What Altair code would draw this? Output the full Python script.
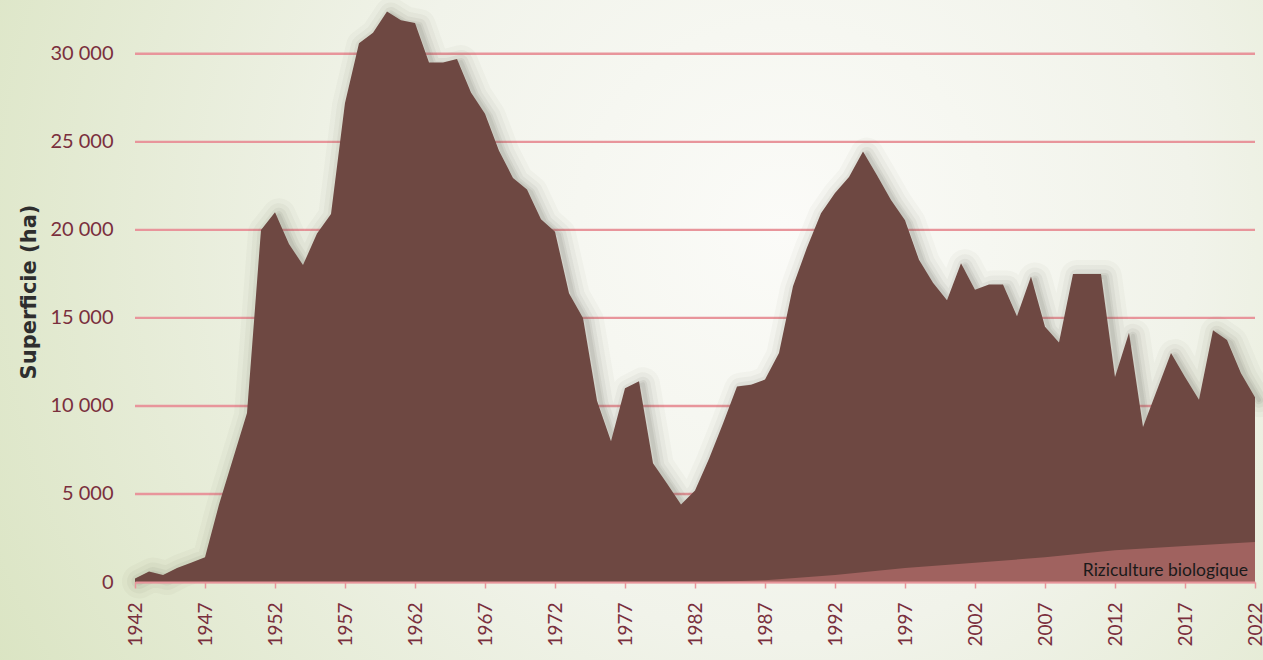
import altair as alt
import pandas as pd

# Rice-growing area per year (ha)
years = list(range(1942, 2023))
surface_ha = [
    200, 600, 400, 800, 1100, 1400, 4400, 7000, 9600,
    20000, 21000, 19200, 18000, 19800, 20900, 27200, 30600, 31200, 32400,
    31900, 31750, 29500, 29500, 29700, 27800, 26600, 24500, 22950, 22300,
    20600, 19900, 16400, 15000, 10300, 8000, 11000, 11400, 6750, 5600,
    4400, 5200, 7000, 9000, 11100, 11200, 11500, 13000, 16800, 19000,
    20950, 22100, 23000, 24450, 23100, 21700, 20550, 18300, 17000, 16000,
    18100, 16600, 16900, 16900, 15100, 17350, 14500, 13600, 17500, 17500,
    17500, 11650, 14150, 8800, 10900, 13000, 11650, 10350, 14300, 13750,
    11850, 10500,
]

# Organic rice share (ha)
organic_years = [1983, 1987, 1992, 1997, 2002, 2007, 2012, 2017, 2022]
organic_ha = [0, 100, 400, 800, 1100, 1400, 1800, 2050, 2270]

y_ticks = [0, 5000, 10000, 15000, 20000, 25000, 30000]
x_ticks = list(range(1942, 2023, 5))

total = pd.DataFrame({"annee": years, "surface": surface_ha})
organic = pd.DataFrame({"annee": organic_years, "surface": organic_ha})
grid = pd.DataFrame({"surface": y_ticks})
label = pd.DataFrame({"annee": [2022], "surface": [600], "txt": ["Riziculture biologique"]})

W, H = 1120, 581
PINK = "#E8959B"
LABEL = "#7A2F3D"
FONT = "Lato"

x_scale = alt.Scale(domain=[1942, 2022], nice=False, zero=False)
y_scale = alt.Scale(domain=[0, 33000], nice=False)

x_axis = alt.Axis(
    values=x_ticks, format="d", labelAngle=-90, title=None, grid=False,
    labelColor=LABEL, labelFont=FONT, labelFontSize=19, labelPadding=14,
    domainColor=PINK, domainWidth=2, tickColor=PINK, tickWidth=1.5,
    tickSize=6, zindex=1,
)
y_axis = alt.Axis(
    values=y_ticks, grid=False, domain=False, ticks=False,
    labelExpr="replace(format(datum.value, ','), ',', ' ')",
    labelColor=LABEL, labelFont=FONT, labelFontSize=20, labelPadding=22,
    title="Superficie (ha)", titleFont="DejaVu Sans", titleFontSize=21,
    titleFontWeight="bold", titleColor="#2E2E2E", titlePadding=10,
    zindex=1,
)

X = alt.X("annee:Q", scale=x_scale, axis=x_axis)
Y = alt.Y("surface:Q", scale=y_scale, axis=y_axis)

# Soft page background
backdrop = alt.Chart(alt.Data(values=[{}])).mark_rect(
    color={
        "gradient": "radial",
        "x1": 0.62, "y1": 0.42, "r1": 0.0,
        "x2": 0.62, "y2": 0.42, "r2": 0.72,
        "stops": [
            {"offset": 0.0, "color": "#FBFBF8"},
            {"offset": 0.45, "color": "#F1F3EA"},
            {"offset": 1.0, "color": "#DAE4C2"},
        ],
    }
).encode(
    x=alt.value(-135), x2=alt.value(W + 8),
    y=alt.value(-1), y2=alt.value(H + 78),
)

gridlines = alt.Chart(grid).mark_rule(color=PINK, strokeWidth=2.4).encode(y=Y)

# Blurred shadow along the top edge
halo_layers = []
for sw, op in [(34, 0.04), (24, 0.05), (15, 0.07), (8, 0.09), (4, 0.1)]:
    halo_layers.append(
        alt.Chart(total).mark_line(
            color="#5f5f58", strokeWidth=sw, strokeOpacity=op,
            strokeJoin="round", strokeCap="round", xOffset=4, yOffset=3,
        ).encode(x=X, y=Y)
    )

area = alt.Chart(total).mark_area(color="#6E4842", interpolate="linear").encode(x=X, y=Y)

organic_area = alt.Chart(organic).mark_area(
    color="#A0625F", interpolate="linear"
).encode(x=X, y=Y)

organic_label = alt.Chart(label).mark_text(
    align="right", baseline="middle", dx=-7, font=FONT, fontSize=17.5, color="#1a1a1a"
).encode(x=X, y=Y, text="txt:N")

chart = alt.layer(
    backdrop, gridlines, *halo_layers, area, organic_area, organic_label
).properties(
    width=W, height=H,
    padding={"left": 135, "top": 1, "right": 8, "bottom": 78},
    autosize=alt.AutoSizeParams(type="none"),
    background="#E8EDD8",
).configure_view(stroke=None)

chart.save("out.html", embed_options={"renderer": "svg", "actions": False})
